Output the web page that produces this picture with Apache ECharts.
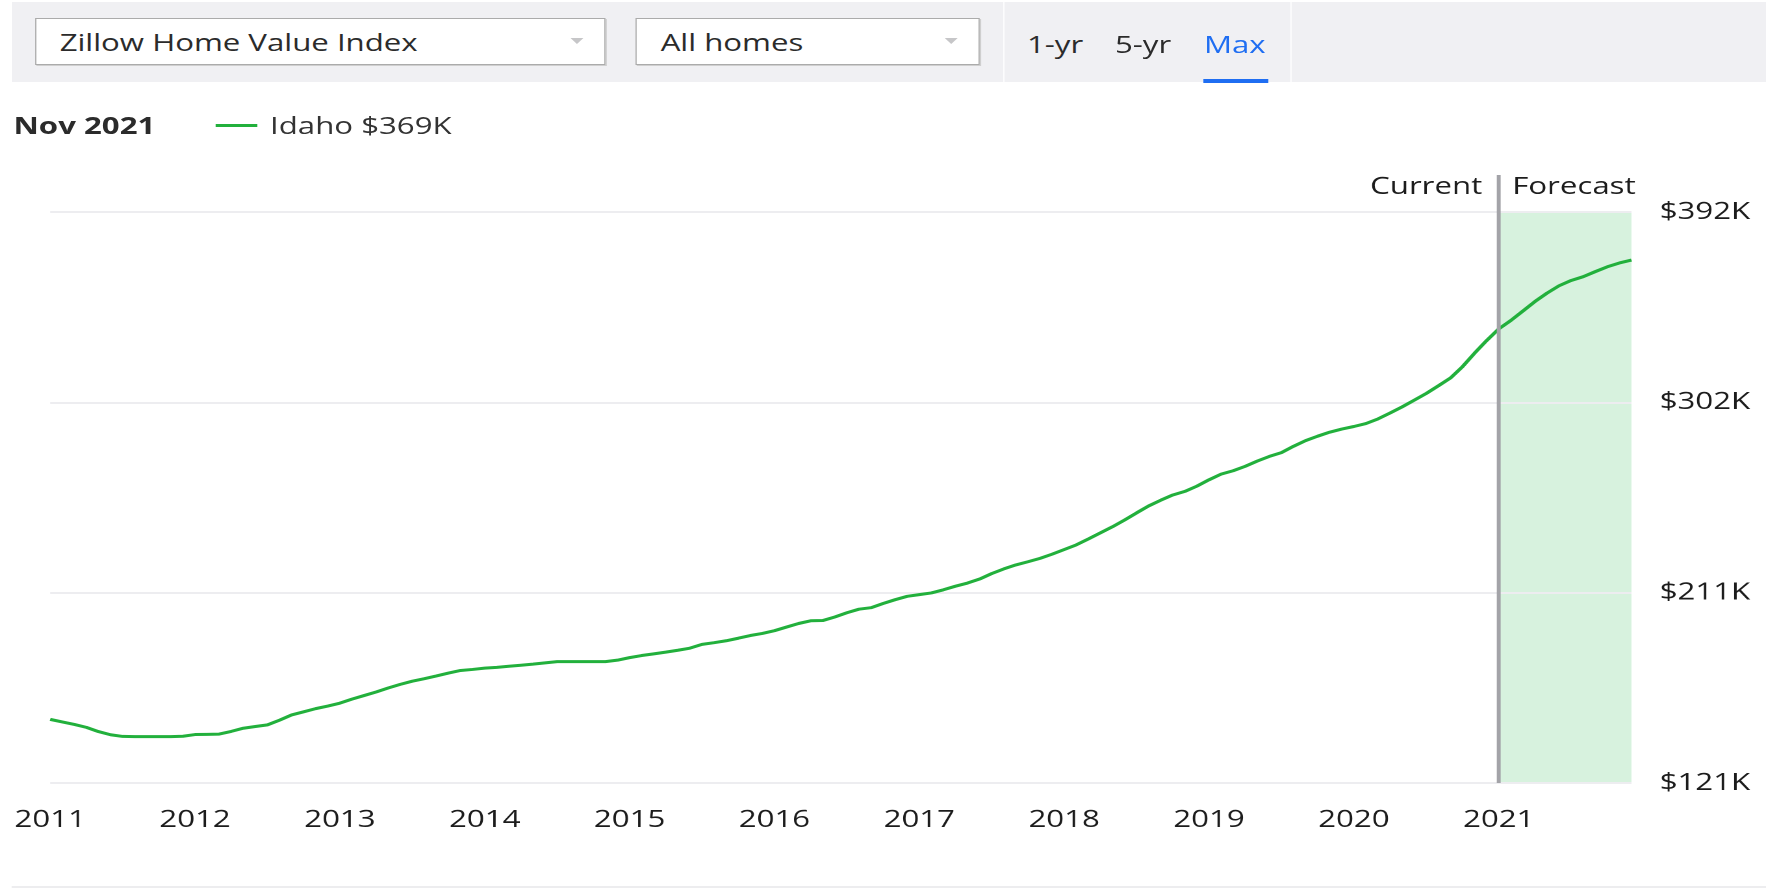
<!DOCTYPE html>
<html>
<head>
<meta charset="utf-8">
<title>Idaho Home Value Index</title>
<script src="https://cdn.jsdelivr.net/npm/echarts@6.0.0/dist/echarts.min.js"></script>
<style>
  html, body { margin: 0; padding: 0; background: #fff; overflow: hidden; }
  body { width: 1766px; height: 890px; }
  /* the source screenshot is stretched sideways, so the page is laid out narrow and scaled */
  #page {
    position: relative; width: 1359px; height: 890px;
    transform: scaleX(1.29948); transform-origin: 0 0;
    font-family: 'Open Sans', sans-serif; color: #2b2b2b;
  }
  #chart { position: absolute; left: 0; top: 0; width: 1359px; height: 890px; }
  .band { position: absolute; left: 8.5px; top: 2px; right: 0; height: 80px; background: #f0f0f3; }
  .select {
    position: absolute; top: 18px; height: 47px; box-sizing: border-box;
    background: #fff; border: 1px solid #ababab; box-shadow: 1px 1px 0 #cfcfcf;
    font-size: 24px; line-height: 45px; padding-left: 18px; white-space: nowrap;
  }
  .select .arrow {
    position: absolute; right: 16px; top: 19px; width: 0; height: 0;
    border-left: 5px solid transparent; border-right: 5px solid transparent; border-top: 6px solid #c6c6c8;
  }
  .divider { position: absolute; top: 2px; height: 80px; width: 1.5px; background: #fff; }
  .tab { position: absolute; top: 27px; font-size: 24px; line-height: 34px; color: #2b2b2b; }
  .tab.on { color: #1f6ef2; }
  .underline { position: absolute; left: 925.7px; top: 79px; width: 50.6px; height: 3.5px; background: #1f6ef2; }
  .label { position: absolute; top: 108px; font-size: 24px; line-height: 34px; white-space: nowrap; }
  .key { position: absolute; left: 166.2px; top: 123.5px; width: 32.3px; height: 3px; background: #22b03c; }
  .rule { position: absolute; left: 8.5px; right: 0; top: 886px; height: 2px; background: #ededef; }
</style>
</head>
<body>
<div id="page">
  <div id="chart"></div>
  <div class="band"></div>
  <div class="select" style="left:26.9px;width:438.7px">Zillow Home Value Index<span class="arrow"></span></div>
  <div class="select" style="left:489.4px;width:264.7px">All homes<span class="arrow"></span></div>
  <div class="divider" style="left:771.5px"></div>
  <div class="divider" style="left:992.8px"></div>
  <div class="tab" style="left:790.3px">1-yr</div>
  <div class="tab" style="left:858px">5-yr</div>
  <div class="tab on" style="left:926.5px">Max</div>
  <div class="underline"></div>
  <div class="label" style="left:10.4px;font-weight:700">Nov 2021</div>
  <div class="key"></div>
  <div class="label" style="left:207.8px;color:#333">Idaho $369K</div>
  <div class="rule"></div>
</div>
<script>
// monthly values, $K, first point is Dec 2010
const firstMonth = [2010, 12]
const currentMonth = [2020, 12]
const homeValues = [
  151.2,
  150.0, 148.8, 147.4, 145.4, 143.9, 143.1, 143.0, 143.0, 143.0, 143.0, 143.2, 144.0,
  144.1, 144.2, 145.5, 147.0, 147.8, 148.6, 150.8, 153.3, 154.8, 156.3, 157.5, 158.9,
  160.8, 162.5, 164.2, 166.1, 167.8, 169.3, 170.5, 171.8, 173.2, 174.4, 174.9, 175.5,
  175.9, 176.4, 176.9, 177.4, 178.0, 178.6, 178.6, 178.6, 178.6, 178.6, 179.3, 180.5,
  181.5, 182.3, 183.1, 184.0, 185.0, 186.8, 187.6, 188.5, 189.7, 191.0, 192.0, 193.3,
  195.0, 196.7, 198.0, 198.1, 199.8, 201.8, 203.5, 204.2, 206.2, 208.0, 209.6, 210.4,
  211.2, 212.7, 214.4, 215.9, 217.8, 220.4, 222.6, 224.5, 226.0, 227.6, 229.6, 231.8,
  234.0, 236.8, 239.7, 242.6, 245.8, 249.2, 252.5, 255.2, 257.7, 259.4, 261.9, 264.9,
  267.6, 269.2, 271.3, 273.8, 276.0, 277.8, 280.8, 283.5, 285.6, 287.5, 289.0, 290.2,
  291.6, 293.8, 296.6, 299.5, 302.7, 305.9, 309.5, 313.2, 318.6, 325.0, 331.0, 336.5,
  340.5, 345.0, 349.5, 353.5, 357.0, 359.5, 361.3, 363.7, 366.0, 367.8, 369.2,
]
const yearLabels = ['2011', '2012', '2013', '2014', '2015', '2016', '2017', '2018', '2019', '2020', '2021']
const priceTicks = ['$121K', '$211K', '$302K', '$392K']
const priceMin = 121
const priceMax = 392

const font = "'Open Sans', sans-serif"
const ink = '#1c1c1c'

// month-end position in decimal years
function monthX(year, month) {
  return year + month / 12
}

const points = homeValues.map((v, i) => {
  const m = firstMonth[1] + i
  const year = firstMonth[0] + Math.floor((m - 1) / 12)
  const month = ((m - 1) % 12) + 1
  return [monthX(year, month), v]
})
const firstX = points[0][0]
const lastX = points[points.length - 1][0]
const currentX = monthX(currentMonth[0], currentMonth[1])
const firstYear = Number(yearLabels[0])

const chart = echarts.init(document.getElementById('chart'), null, { devicePixelRatio: 2 })

chart.setOption({
  animation: false,
  grid: { left: 38.6, right: 103.5, top: 212, bottom: 107 },
  xAxis: {
    type: 'value',
    min: firstX,
    max: lastX,
    interval: 1,
    axisLine: { show: false },
    axisTick: { show: false },
    splitLine: { show: false },
    axisLabel: {
      margin: 25,
      fontSize: 24,
      fontFamily: font,
      color: ink,
      showMaxLabel: false,
      formatter: v => yearLabels[v - firstYear] || '',
    },
  },
  yAxis: [
    {
      // tick positions only, labels come from priceTicks
      type: 'value',
      position: 'right',
      min: 0,
      max: priceTicks.length - 1,
      interval: 1,
      z: 2,
      axisLine: { show: false },
      axisTick: { show: false },
      splitLine: { lineStyle: { color: '#ededf0', width: 2 } },
      axisLabel: {
        margin: 21.7,
        fontSize: 24,
        fontFamily: font,
        color: ink,
        formatter: i => priceTicks[i],
      },
    },
    {
      type: 'value',
      position: 'left',
      min: priceMin,
      max: priceMax,
      show: false,
    },
  ],
  series: [
    {
      name: 'Idaho',
      type: 'line',
      yAxisIndex: 1,
      z: 3,
      data: points,
      symbol: 'none',
      lineStyle: { color: '#22b03c', width: 3 },
      markArea: {
        silent: true,
        z: 1,
        itemStyle: { color: '#d7f2de' },
        data: [[{ xAxis: currentX }, { xAxis: lastX }]],
      },
    },
  ],
})

// current / forecast divider
const topPt = chart.convertToPixel({ seriesIndex: 0 }, [currentX, priceMax])
const bottomPt = chart.convertToPixel({ seriesIndex: 0 }, [currentX, priceMin])
chart.setOption({
  graphic: [
    {
      type: 'line',
      z: 4,
      shape: { x1: topPt[0], y1: topPt[1] - 37, x2: bottomPt[0], y2: bottomPt[1] },
      style: { stroke: '#a3a3a8', lineWidth: 3 },
    },
    {
      type: 'text',
      z: 4,
      style: {
        text: 'Current', x: topPt[0] - 12.7, y: topPt[1] - 25,
        font: "24px 'Open Sans'", fill: ink,
        align: 'right', verticalAlign: 'middle', textAlign: 'right', textVerticalAlign: 'middle',
      },
    },
    {
      type: 'text',
      z: 4,
      style: {
        text: 'Forecast', x: topPt[0] + 10.4, y: topPt[1] - 25,
        font: "24px 'Open Sans'", fill: ink,
        align: 'left', verticalAlign: 'middle', textAlign: 'left', textVerticalAlign: 'middle',
      },
    },
  ],
})
</script>
</body>
</html>
